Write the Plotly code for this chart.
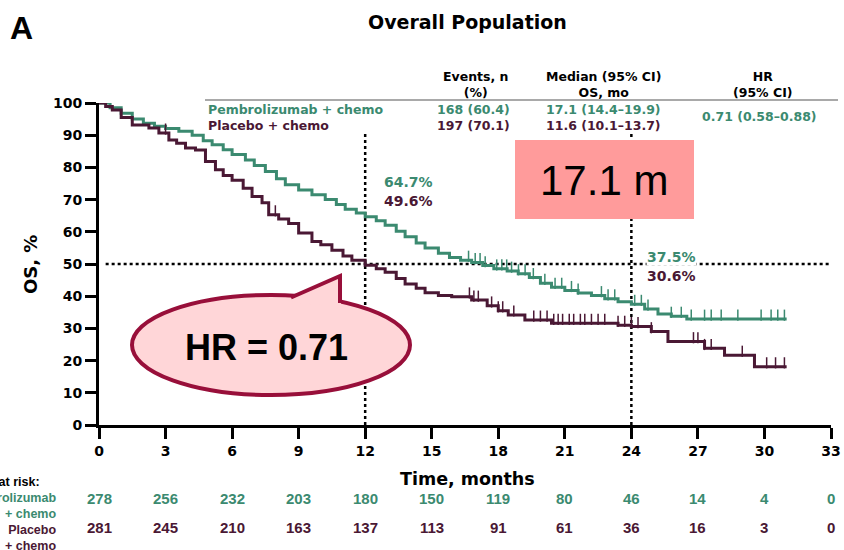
import numpy as np
import plotly.graph_objects as go

# ---------------- data ----------------
pem_t = [0, 0.5, 1.0, 1.5, 2.0, 2.5, 3.0, 3.6, 4.2, 4.7, 5.1, 5.6, 6.0, 6.6, 7.0, 7.5, 8.0, 8.4,
         9.0, 9.6, 10.2, 10.7, 11.1, 11.6, 12.0, 12.5, 12.9, 13.4, 13.8, 14.3, 14.7, 15.3, 15.8,
         16.3, 16.8, 17.3, 17.8, 18.4, 18.9, 19.4, 19.9, 20.4, 21.0, 21.6, 22.2, 22.8, 23.4,
         24.0, 24.6, 25.2, 25.8, 26.5, 31.0]
pem_s = [100, 98.5, 96.8, 95.0, 93.7, 92.8, 92.1, 91.2, 90.0, 88.3, 87.0, 85.5, 84.0, 82.3, 80.6,
         78.7, 76.5, 74.6, 73.0, 71.5, 70.0, 68.5, 67.0, 65.8, 64.7, 63.4, 62.0, 60.2, 58.5, 56.5,
         55.0, 53.3, 52.0, 51.2, 50.5, 49.5, 48.5, 47.8, 47.0, 45.8, 44.0, 42.8, 41.8, 41.0, 40.2,
         39.2, 38.3, 37.5, 36.0, 34.5, 33.8, 32.9, 32.9]
pla_t = [0, 0.3, 0.6, 1.0, 1.5, 2.25, 2.7, 3.15, 3.5, 3.9, 4.35, 4.8, 5.25, 5.6, 6.0, 6.5, 6.9,
         7.35, 7.65, 8.1, 8.55, 9.0, 9.6, 10.0, 10.5, 11.0, 11.4, 12.0, 12.5, 12.9, 13.4, 13.8,
         14.3, 14.7, 15.3, 15.9, 16.8, 17.5, 18.0, 18.45, 19.2, 20.4, 23.4, 24.0, 24.9, 25.65,
         27.3, 28.2, 29.55, 31.0]
pla_s = [100, 98.9, 97.8, 95.5, 93.2, 92.2, 90.7, 88.5, 87.5, 86.0, 85.4, 81.8, 79.3, 77.5, 76.0,
         73.5, 71.0, 69.0, 65.3, 64.0, 62.6, 59.6, 57.0, 56.0, 54.3, 52.5, 51.2, 49.6, 48.5, 47.4,
         45.5, 43.8, 42.5, 41.1, 40.2, 39.8, 38.8, 37.0, 35.5, 34.2, 32.6, 31.6, 31.0, 30.6, 29.0,
         25.9, 23.8, 21.7, 18.1, 18.1]
pem_cens = [16.66, 16.96, 17.18, 17.41, 17.93, 18.16, 18.38, 18.6, 18.91, 19.21, 19.58, 20.1,
            20.56, 20.86, 21.3, 21.6, 22.65, 22.95, 23.25, 24.15, 24.45, 24.75, 25.8, 26.25,
            26.7, 27.3, 27.6, 28.05, 28.8, 29.85, 30.3, 30.6, 30.9]
pla_cens = [3.0, 7.95, 16.7, 16.9, 17.1, 17.7, 18.0, 18.2, 18.7, 19.6, 19.9, 20.2, 20.5, 20.7,
            20.9, 21.2, 21.4, 21.7, 21.9, 22.2, 22.5, 22.8, 23.4, 23.7, 24.0, 24.3, 24.9, 26.8,
            27.0, 27.3, 27.6, 29.0, 30.1, 30.5, 30.9]
risk_times = [0, 3, 6, 9, 12, 15, 18, 21, 24, 27, 30, 33]
pem_risk = [278, 256, 232, 203, 180, 150, 119, 80, 46, 14, 4, 0]
pla_risk = [281, 245, 210, 163, 137, 113, 91, 61, 36, 16, 3, 0]

GREEN = "#3B8A70"
PURPLE = "#4A1834"
FONT = "DejaVu Sans, sans-serif"
FONT_A = "Arial, Liberation Sans, sans-serif"

W, H = 844, 550
L, R, T, B = 99, 13, 103, 125
PW, PH = W - L - R, H - T - B


def px(x):
    return (x - L) / PW


def py(y):
    return (H - B - y) / PH


def step_val(times, surv, t):
    i = np.searchsorted(np.array(times), t, side="right") - 1
    return np.array(surv)[i]


fig = go.Figure()
for t, s, c, name in [(pem_t, pem_s, GREEN, "Pembrolizumab + chemo"),
                      (pla_t, pla_s, PURPLE, "Placebo + chemo")]:
    fig.add_trace(go.Scatter(x=t, y=s, mode="lines", line=dict(color=c, width=3, shape="hv"),
                             name=name, showlegend=False))
for cens, t, s, c in [(pem_cens, pem_t, pem_s, GREEN), (pla_cens, pla_t, pla_s, PURPLE)]:
    fig.add_trace(go.Scatter(x=cens, y=[step_val(t, s, v) + 1.2 for v in cens], mode="markers",
                             marker=dict(symbol="line-ns", size=8, line=dict(color=c, width=1.5)),
                             showlegend=False, hoverinfo="skip"))

shapes = []
shapes.append(dict(type="line", xref="x", yref="y", x0=12, x1=12, y0=0, y1=91,
                   line=dict(color="black", width=2.5, dash="dot"), layer="below"))
shapes.append(dict(type="line", xref="x", yref="y", x0=24, x1=24, y0=0, y1=91,
                   line=dict(color="black", width=2.5, dash="dot"), layer="below"))
shapes.append(dict(type="line", xref="x", yref="y", x0=0.3, x1=33, y0=50, y1=50,
                   line=dict(color="black", width=2.5, dash="dot"), layer="below"))
shapes.append(dict(type="line", xref="paper", yref="paper", x0=px(205), x1=px(838), y0=py(100), y1=py(100),
                   line=dict(color="#555555", width=1.2)))
shapes.append(dict(type="rect", xref="paper", yref="paper", x0=px(515), x1=px(694), y0=py(219), y1=py(140),
                   fillcolor="#FF9B9B", line=dict(width=0)))
BR = "#980F3A"
FILL = "#FFD6D8"
shapes.append(dict(type="circle", xref="paper", yref="paper", x0=px(132), x1=px(410), y0=py(395), y1=py(295),
                   fillcolor=FILL, line=dict(color=BR, width=4)))
shapes.append(dict(type="path", xref="paper", yref="paper",
                   path=f"M {px(287)} {py(300)} L {px(340)} {py(276)} L {px(341)} {py(307)} L {px(300)} {py(303)} Z",
                   fillcolor=FILL, line=dict(width=0)))
shapes.append(dict(type="path", xref="paper", yref="paper",
                   path=f"M {px(291)} {py(297.5)} L {px(340)} {py(276)} L {px(340)} {py(303)}",
                   line=dict(color=BR, width=4)))

ann = []


def A(text, x, y, size=13, color="black", xanchor="center", yanchor="middle", bold=True, family=FONT, **kw):
    ann.append(dict(text=text, x=px(x), y=py(y), xref="paper", yref="paper", showarrow=False,
                    xanchor=xanchor, yanchor=yanchor, borderpad=0,
                    font=dict(family=family, size=size, color=color, weight=700 if bold else 400), **kw))


A("A", 9, 28, size=32, xanchor="left", family=FONT_A)
A("Overall Population", 468, 22, size=19)
A("Events, n<br>(%)", 475, 84, size=12.5)
A("Median (95% CI)<br>OS, mo", 603, 84, size=12.5)
A("HR<br>(95% CI)", 763, 84, size=12.5)
A("Pembrolizumab + chemo", 207, 109, size=12.5, color=GREEN, xanchor="left")
A("Placebo + chemo", 207, 125, size=12.5, color=PURPLE, xanchor="left")
A("168 (60.4)", 474, 109, size=12.5, color=GREEN)
A("197 (70.1)", 474, 125, size=12.5, color=PURPLE)
A("17.1 (14.4–19.9)", 603, 109, size=12.5, color=GREEN)
A("11.6 (10.1–13.7)", 603, 125, size=12.5, color=PURPLE)
A("0.71 (0.58–0.88)", 759, 116, size=12.5, color=GREEN)
A("64.7%", 383, 182, size=14, color=GREEN, xanchor="left")
A("49.6%", 383, 201, size=14, color=PURPLE, xanchor="left")
A("37.5%", 646, 257, size=14, color=GREEN, xanchor="left", bgcolor="white")
A("30.6%", 646, 276, size=14, color=PURPLE, xanchor="left", bgcolor="white")
A("17.1 m", 604, 180, size=42, bold=False, family=FONT_A)
A("HR = 0.71", 266, 347, size=36, family=FONT_A)
A("OS, %", 30, 265, size=18, textangle=-90)
A("Time, months", 468, 479, size=17.5)
A("No. at risk:", 41, 482, size=12.5, xanchor="right", family=FONT_A)
A("Pembrolizumab<br>+ chemo", 57, 506, size=12.5, color=GREEN, xanchor="right", align="right", family=FONT_A)
A("Placebo<br>+ chemo", 57, 538, size=12.5, color=PURPLE, xanchor="right", align="right", family=FONT_A)
for t, a, b in zip(risk_times, pem_risk, pla_risk):
    ann.append(dict(text=str(a), x=t, y=py(508), xref="x", yref="paper", showarrow=False, borderpad=0,
                    font=dict(family=FONT_A, size=15, color=GREEN, weight=700)))
    ann.append(dict(text=str(b), x=t, y=py(537), xref="x", yref="paper", showarrow=False, borderpad=0,
                    font=dict(family=FONT_A, size=15, color=PURPLE, weight=700)))

axis_common = dict(showline=True, linecolor="black", linewidth=3, ticks="outside", tickwidth=3,
                   tickcolor="black", ticklen=11, showgrid=False, zeroline=False, automargin=False,
                   tickfont=dict(family=FONT, size=14, color="black", weight=700))
fig.update_layout(
    width=W, height=H, margin=dict(l=L, r=R, t=T, b=B, autoexpand=False),
    paper_bgcolor="white", plot_bgcolor="white",
    xaxis=dict(range=[0, 33], tickvals=risk_times, **axis_common),
    yaxis=dict(range=[0, 100], tickvals=list(range(0, 101, 10)), **axis_common),
    shapes=shapes, annotations=ann,
)
fig.write_html("out.html")
